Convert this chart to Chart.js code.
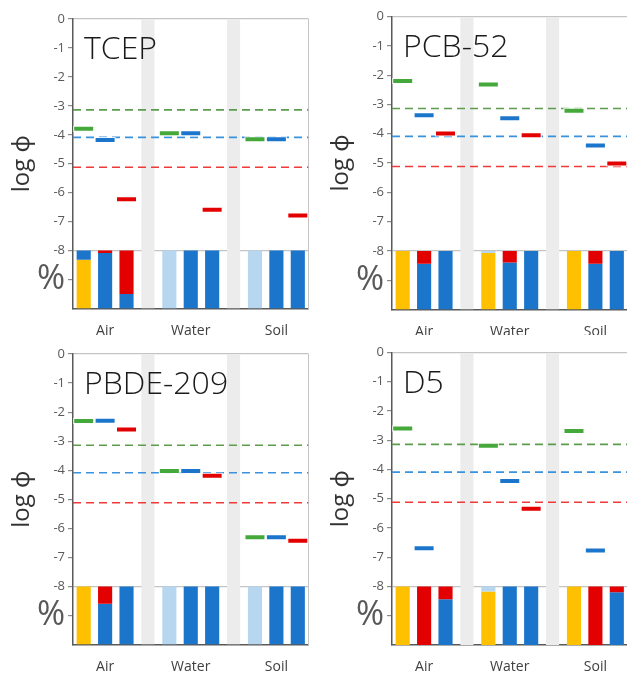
<!DOCTYPE html>
<html>
<head>
<meta charset="utf-8">
<script src="https://cdn.jsdelivr.net/npm/chart.js@4.4.1/dist/chart.umd.min.js"></script>
<style>
  html, body { margin: 0; padding: 0; background: #fff; overflow: hidden; }
  body { width: 627px; height: 675px; position: relative; }
  canvas { position: absolute; }
</style>
</head>
<body>
<script>
// slots: 3 bars per medium, with a grey separator slot between media
const categories = ["", "Air", "", "", "", "Water", "", "", "", "Soil", ""];
const gapSlots = [3, 7];
const yTicks = [0, -1, -2, -3, -4, -5, -6, -7, -8];
const thresholds = [-3.14, -4.09, -5.12]; // green, blue, red dashed lines

const panelNames = ["TCEP", "PCB-52", "PBDE-209", "D5"];

// log phi markers per panel: [Air, Water, Soil]
const greenLevels = [
  [-3.79, -3.95, -4.15],
  [-2.2, -2.32, -3.22],
  [-2.31, -4.03, -6.31],
  [-2.6, -3.19, -2.68]
];
const blueLevels = [
  [-4.18, -3.95, -4.15],
  [-3.37, -3.47, -4.4],
  [-2.3, -4.03, -6.31],
  [-6.69, -4.39, -6.77]
];
const redLevels = [
  [-6.23, -6.59, -6.79],
  [-3.99, -4.05, -5.02],
  [-2.6, -4.19, -6.43],
  [null, -5.34, null]
];

// percent bars, 3 per medium (Air x3, Water x3, Soil x3), stacked from the top down
const lightBluePct = [
  [0, 0, 0, 100, 0, 0, 100, 0, 0],
  [0, 0, 0, 3.5, 0, 0, 0, 0, 0],
  [0, 0, 0, 100, 0, 0, 100, 0, 0],
  [0, 0, 0, 8.5, 0, 0, 0, 0, 0]
];
const redPct = [
  [0, 4, 75, 0, 0, 0, 0, 0, 0],
  [0, 22, 0, 0, 20, 0, 0, 22, 0],
  [0, 30, 0, 0, 0, 0, 0, 0, 0],
  [0, 100, 22, 0, 0, 0, 0, 100, 10]
];
const bluePct = [
  [16, 96, 25, 0, 100, 100, 0, 100, 100],
  [0, 78, 100, 0, 80, 100, 0, 78, 100],
  [0, 70, 100, 0, 100, 100, 0, 100, 100],
  [0, 0, 78, 0, 100, 100, 0, 0, 90]
];
const yellowPct = [
  [84, 0, 0, 0, 0, 0, 0, 0, 0],
  [100, 0, 0, 96.5, 0, 0, 100, 0, 0],
  [100, 0, 0, 0, 0, 0, 0, 0, 0],
  [100, 0, 0, 91.5, 0, 0, 100, 0, 0]
];

// panel placement
const panelLeft = [0, 319, 0, 319];
const panelTop = [0, 0, 335, 335];
const panelHeight = [335, 335, 340, 340];
const areaTop = [19, 16.5, 19, 17.5];
const areaBottom = [308.5, 309.5, 309.5, 310];

const GREEN = "#45a83a", BLUE = "#1b75cb", RED = "#e30000";
const YELLOW = "#ffc000", LIGHTBLUE = "#b6d7ef", BAND = "#ececec";
const FONT = "'Open Sans', 'Noto Sans', sans-serif";

function toSlots(values) {
  const out = new Array(categories.length).fill(null);
  values.forEach((v, i) => { out[Math.floor(i / 3) * 4 + (i % 3)] = v; });
  return out;
}

function markerSlots(levels, pos) {
  const out = new Array(categories.length).fill(null);
  levels.forEach((v, m) => { out[m * 4 + pos] = v; });
  return out;
}

const titlePlugin = {
  id: "panelTitle",
  afterDatasetsDraw(chart, args, opts) {
    const { ctx, chartArea } = chart;
    ctx.save();
    ctx.font = "300 32px " + FONT;
    ctx.fillStyle = "#1a1a1a";
    ctx.textBaseline = "alphabetic";
    ctx.fillText(opts.text, chartArea.left + 11, chartArea.top + 40);
    ctx.restore();
  }
};

function markerSets(levels, pos, color) {
  const data = markerSlots(levels, pos);
  return [
    {
      type: "line", data: data, showLine: false, yAxisID: "y",
      pointStyle: "line", pointRadius: 10.5, pointBorderWidth: 6,
      pointBorderColor: "rgba(255,255,255,0.85)", order: 2
    },
    {
      type: "line", data: data, showLine: false, yAxisID: "y",
      pointStyle: "line", pointRadius: 9.5, pointBorderWidth: 4,
      pointBorderColor: color, order: 1
    }
  ];
}

function pctSet(values, color) {
  return {
    type: "bar", data: toSlots(values), yAxisID: "y2",
    backgroundColor: color, barPercentage: 0.66, categoryPercentage: 1,
    grouped: false, order: 8
  };
}

panelNames.forEach((name, p) => {
  const canvas = document.createElement("canvas");
  canvas.width = 325;
  canvas.height = panelHeight[p];
  canvas.style.left = panelLeft[p] + "px";
  canvas.style.top = panelTop[p] + "px";
  document.body.appendChild(canvas);

  const dashColors = ["#5c9c4c", "#3a92dc", "#f03a3a"];
  const dashSets = thresholds.map((t, i) => ({
    type: "line", xAxisID: "x2", yAxisID: "y",
    data: [{ x: 0, y: t }, { x: categories.length, y: t }],
    borderColor: dashColors[i], borderWidth: 1.6, borderDash: [8, 5],
    pointRadius: 0, order: 4
  }));

  new Chart(canvas.getContext("2d"), {
    type: "bar",
    data: {
      labels: categories,
      datasets: [
        {
          type: "bar", yAxisID: "y",
          data: categories.map((c, i) => (gapSlots.includes(i) ? [-10, 0] : null)),
          backgroundColor: BAND, barPercentage: 0.61, categoryPercentage: 1,
          grouped: false, order: 10
        },
        pctSet(lightBluePct[p], LIGHTBLUE),
        pctSet(redPct[p], RED),
        pctSet(bluePct[p], BLUE),
        pctSet(yellowPct[p], YELLOW),
        ...dashSets,
        ...markerSets(greenLevels[p], 0, GREEN),
        ...markerSets(blueLevels[p], 1, BLUE),
        ...markerSets(redLevels[p], 2, RED)
      ]
    },
    options: {
      responsive: false,
      animation: false,
      events: [],
      layout: { padding: { top: areaTop[p], right: 5, left: 0, bottom: 0 } },
      plugins: {
        legend: { display: false },
        tooltip: { enabled: false },
        panelTitle: { text: name }
      },
      scales: {
        x: {
          type: "category",
          offset: true,
          grid: { display: false, drawTicks: false },
          border: { color: "#595959", width: 1.5 },
          ticks: {
            autoSkip: false, maxRotation: 0, padding: 14,
            color: "#404040", font: { family: FONT, size: 14 }
          },
          afterFit: (scale) => { scale.height = panelHeight[p] - areaBottom[p]; }
        },
        x2: { type: "linear", display: false, offset: false, min: 0, max: categories.length },
        y: {
          min: -10, max: 0,
          ticks: {
            stepSize: 1, autoSkip: false, padding: 3, color: "#595959",
            callback: (v) => (yTicks.includes(v) ? String(v) : v === -9 ? "%" : ""),
            font: (ctx) => (ctx.tick && ctx.tick.value === -9
              ? { family: FONT, size: 34 }
              : { family: FONT, size: 13 })
          },
          grid: {
            color: (ctx) => (ctx.tick && (ctx.tick.value === -8 || ctx.tick.value === 0) ? "#c4c4c4" : "rgba(0,0,0,0)"),
            tickColor: (ctx) => (ctx.tick && ctx.tick.value === -10 ? "rgba(0,0,0,0)" : "#8a8a8a"),
            tickLength: 5, lineWidth: 1.2
          },
          border: { color: "#595959", width: 1.5 },
          title: {
            display: true, text: "log \u03d5", color: "#333333",
            font: { family: FONT, size: 24 }, padding: { top: 8, bottom: 0 }
          },
          afterFit: (scale) => { scale.width = 73; }
        },
        y2: {
          position: "right", reverse: true, stacked: true, min: -400, max: 100,
          ticks: { display: false },
          grid: { display: false, drawTicks: false },
          border: { color: "#c4c4c4", width: 1 },
          afterFit: (scale) => { scale.width = 0; }
        }
      }
    },
    plugins: [titlePlugin]
  });
});
</script>
</body>
</html>
